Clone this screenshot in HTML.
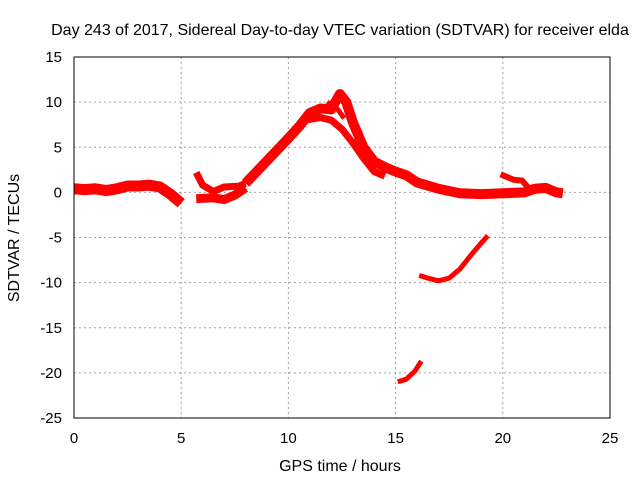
<!DOCTYPE html>
<html><head><meta charset="utf-8"><style>
body{margin:0;background:#fff}
svg text{font-family:"Liberation Sans",sans-serif;font-size:15px;fill:#000}
svg text.big{font-size:16px}
</style></head><body>
<svg id="chart" width="640" height="480" xmlns="http://www.w3.org/2000/svg">
<text class="big" x="340" y="35" text-anchor="middle">Day 243 of 2017, Sidereal Day-to-day VTEC variation (SDTVAR) for receiver elda</text>
<text class="big" x="340" y="471" text-anchor="middle">GPS time / hours</text>
<text class="big" transform="translate(19,238) rotate(-90)" text-anchor="middle">SDTVAR / TECUs</text>
<g id="grid"></g><g id="series"></g>
<rect x="74" y="57" width="536" height="361" fill="none" stroke="#000" stroke-width="1"/>
<g id="ticks"></g>
</svg>
<script>
const xTicks=[0,5,10,15,20,25];
const yTicks=[15,10,5,0,-5,-10,-15,-20,-25];
const segMainA=[[0,0.4],[0.5,0.3],[1,0.4],[1.5,0.2],[2,0.4],[2.5,0.7],[3,0.7],[3.5,0.8],[4,0.6],[4.5,-0.2],[5,-1.2]];
const segLow=[[5.7,-0.7],[6.5,-0.6],[7,-0.8],[7.5,-0.3],[8,0.5]];
const segUp=[[5.7,2.2],[6,0.8],[6.5,0.1],[7,0.6],[7.7,0.7],[8,1]];
const segRise=[[8,1],[9,3.5],[10,6],[10.5,7.3],[11,8.8],[11.5,9.3],[12,9.2],[12.4,10.9],[12.7,10],[13,7.8],[13.5,5],[14,3.4],[14.5,2.8],[15,2.3],[15.5,1.9],[16,1.1],[17,0.4],[18,-0.1],[19,-0.2],[20,-0.1],[21,0],[21.5,0.4],[22,0.5],[22.5,0],[22.8,-0.1]];
const segBranch=[[10.8,8],[11.5,8.3],[12,8],[12.5,7],[13,5.5],[13.5,3.8],[14,2.3],[14.5,1.8]];
const segBranch2=[[11.8,10],[12.3,9.2],[12.6,8.2]];
const seg20=[[19.9,2],[20.5,1.4],[20.9,1.3],[21.2,0.5]];
const segNeg10=[[16.1,-9.2],[16.5,-9.5],[17,-9.8],[17.5,-9.5],[18,-8.5],[18.5,-7],[19,-5.6],[19.3,-4.8]];
const segNeg20=[[15.1,-21],[15.5,-20.7],[15.9,-19.8],[16.2,-18.7]];
const X=v=>74+v*536/25, Y=v=>57+(15-v)*361/40;
const NS="http://www.w3.org/2000/svg";
const g=document.getElementById('grid'),t=document.getElementById('ticks'),s=document.getElementById('series');
function mk(tag,a,p){const e=document.createElementNS(NS,tag);for(const k in a)e.setAttribute(k,a[k]);p.appendChild(e);return e;}
xTicks.forEach(v=>{
 if(v>0&&v<25){const l=mk('line',{x1:X(v),x2:X(v),y1:57,y2:418,stroke:'#a0a0a0','stroke-dasharray':'2,3'},g);
 
 }
 const tx=mk('text',{x:X(v),y:443,'text-anchor':'middle'},t);tx.textContent=v;
 
 
});
yTicks.forEach(v=>{
 if(v<15&&v>-25){const l=mk('line',{x1:74,x2:610,y1:Y(v),y2:Y(v),stroke:'#a0a0a0','stroke-dasharray':'2,3'},g);
 
 }
 const tx=mk('text',{x:62,y:Y(v)+5,'text-anchor':'end'},t);tx.textContent=v;
 
 
});
[[segMainA,11],[segLow,9],[segUp,7],[segRise,10],[segBranch,7],[segBranch2,5],[seg20,6],[segNeg10,5],[segNeg20,5]].forEach(([d,w])=>{
 const p=mk('polyline',{points:d.map(q=>X(q[0])+','+Y(q[1])).join(' '),fill:'none',stroke:'#ff0000','stroke-width':w,'stroke-linejoin':'round','stroke-linecap':'butt'},s);
 
 
});
</script>
</body></html>
